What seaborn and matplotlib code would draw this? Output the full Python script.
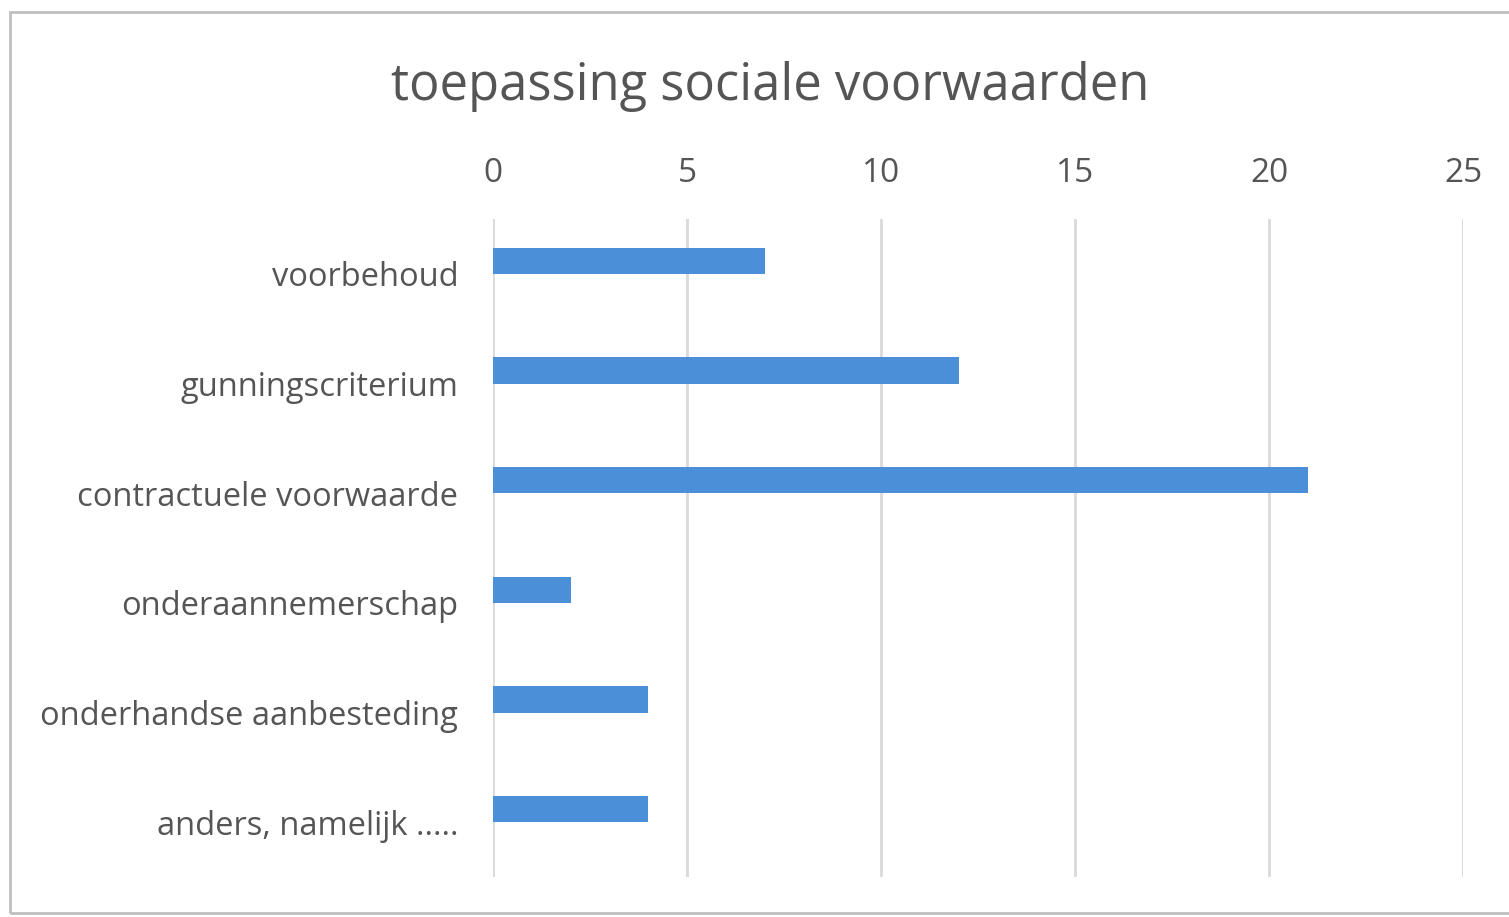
import matplotlib
matplotlib.use("Agg")
import matplotlib.pyplot as plt
import seaborn as sns
import pandas as pd
from matplotlib.patches import Rectangle

categories = ["voorbehoud", "gunningscriterium", "contractuele voorwaarde",
              "onderaannemerschap", "onderhandse aanbesteding", "anders, namelijk ....."]
values = [7, 12, 21, 2, 4, 4]
empty_series = [0, 0, 0, 0, 0, 0]
x_ticks = [0, 5, 10, 15, 20, 25]
title = "toepassing sociale voorwaarden"

sns.set_theme(style="white")
plt.rcParams['font.family'] = ['Open Sans', 'DejaVu Sans']

df = pd.DataFrame({
    "categorie": categories * 2,
    "aantal": values + empty_series,
    "reeks": ["a"] * len(categories) + ["b"] * len(categories),
})

fig = plt.figure(figsize=(15.09, 9.17), dpi=100)
fig.patch.set_facecolor("white")
fig.patches.append(Rectangle((10 / 1509, 1 - 913 / 917), 1.2, (913 - 12) / 917,
                             transform=fig.transFigure, fill=False,
                             edgecolor="#bfbfbf", linewidth=2))

ax = fig.add_axes([493 / 1509, 1 - 877 / 917, 970 / 1509, 658 / 917])
sns.barplot(data=df, y="categorie", x="aantal", hue="reeks", orient="h",
            palette=["#4A8FD8", "#4A8FD8"], saturation=1, width=0.48, dodge=True,
            linewidth=0, ax=ax, legend=False)

ax.set_xlim(0, 25)
ax.set_ylim(5.5, -0.5)
ax.set_xticks(x_ticks)
ax.xaxis.tick_top()
ax.tick_params(axis="x", length=0, pad=21, labelsize=24, labelcolor="#555555")
ax.tick_params(axis="y", length=0, pad=25, labelsize=23.5, labelcolor="#555555")
ax.set_xlabel("")
ax.set_ylabel("")
for s in ax.spines.values():
    s.set_visible(False)
ax.grid(axis="x", color="#d9d9d9", linewidth=2)
ax.set_axisbelow(True)

fig.text(770 / 1509, 1 - 87 / 917, title, ha="center", va="center",
         fontsize=36.5, color="#555555")

fig.savefig("out.png", dpi=100)
